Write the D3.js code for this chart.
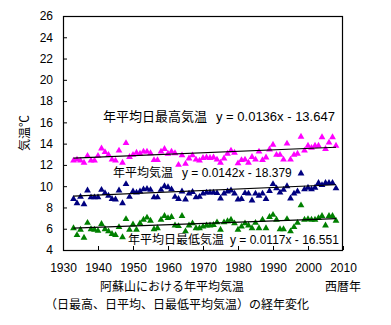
<!DOCTYPE html>
<html><head><meta charset="utf-8">
<script src="https://cdn.jsdelivr.net/npm/d3@7/dist/d3.min.js"></script>
<style>
body{margin:0;background:#fff;}
text{font-family:"Liberation Sans","Noto Sans CJK JP",sans-serif;font-size:12px;fill:#000;}
.jp{font-family:"Noto Sans CJK JP","Liberation Sans",sans-serif;}
</style></head>
<body><svg id="c" width="391" height="325"></svg>
<script>
const years = [1933,1934,1935,1936,1937,1938,1939,1940,1941,1942,
1943,1944,1945,1946,1947,1948,1949,1950,1951,1952,
1953,1954,1955,1956,1957,1958,1959,1960,1961,1962,
1963,1964,1965,1966,1967,1968,1969,1970,1971,1972,
1973,1974,1975,1976,1977,1978,1979,1980,1981,1982,
1983,1984,1985,1986,1987,1988,1989,1990,1991,1992,
1993,1994,1995,1996,1997,1998,1999,2000,2001,2002,
2003,2004,2005,2006,2007,2008];
const maxT = [12.4,12.5,12.4,12.2,12.85,12.4,12.4,12.85,13.55,13.2,
12.95,12.5,12.4,13.35,12.2,14.05,12.75,12.95,13.15,13.05,
13.25,13.25,13.1,12.45,12.45,13.25,13.5,13.05,13.25,13.1,
12.0,12.9,12.1,12.6,12.9,12.5,12.4,12.65,12.7,12.65,
12.7,12.5,12.2,12.6,13.05,13.35,13.15,12.15,12.45,12.5,
12.2,12.75,12.5,13.25,12.45,12.7,13.45,13.9,12.95,12.95,
12.5,14.0,12.5,12.95,13.05,14.65,13.35,13.8,13.6,13.8,
13.8,14.6,13.5,14.1,14.6,13.8];
const meanT = [8.8,8.4,9.0,8.3,9.6,8.95,8.95,8.95,9.65,9.35,
9.1,8.8,8.75,9.6,8.4,10.2,9.0,9.5,9.4,9.5,
9.7,9.75,9.65,8.95,8.95,9.65,10.0,9.9,9.7,9.0,
8.8,9.5,8.75,9.3,9.45,8.95,9.0,9.3,9.4,9.4,
9.4,9.35,8.85,9.3,9.5,9.6,9.3,8.75,8.8,9.35,
9.3,8.65,9.3,9.1,9.3,8.8,9.55,10.2,9.8,9.4,
9.65,10.0,8.85,9.3,9.5,11.2,9.7,9.85,9.7,9.85,
10.3,10.1,10.3,10.3,10.3,9.8];
const minT = [6.05,5.4,5.9,5.15,6.55,5.95,5.9,5.8,6.45,5.95,
5.75,5.5,5.4,6.15,5.2,6.9,5.9,6.4,5.9,6.5,
6.85,7.05,6.75,5.95,6.05,6.85,7.2,7.0,7.1,6.3,
6.25,7.2,5.75,6.3,6.5,6.05,6.05,6.2,6.3,6.3,
6.35,6.6,5.9,6.6,6.7,6.85,6.5,5.9,6.2,6.5,
6.3,6.05,6.55,6.05,6.85,6.05,7.1,7.3,6.85,5.95,
5.95,6.9,5.75,6.15,6.55,8.2,6.85,6.9,6.85,6.85,
7.0,7.2,6.3,7.2,7.2,6.75];
const seriesNames = ["年平均日最高気温","年平均気温","年平均日最低気温"];
const slopes = [0.0136,0.0142,0.0117];
const intercepts = [-13.647,-18.379,-16.551];
const eqLabels = ["y = 0.0136x - 13.647","y = 0.0142x - 18.379","y = 0.0117x - 16.551"];
const colors = ["#FF00FF","#000080","#008000"];
const xTicks = [1930,1940,1950,1960,1970,1980,1990,2000,2010];
const yTicks = [4,6,8,10,12,14,16,18,20,22,24,26];

const svg = d3.select("#c");
const L=63, R=343, T=16, B=250;
const x = d3.scaleLinear().domain([1930,2010]).range([L,R]);
const y = d3.scaleLinear().domain([4,26]).range([B,T]);

const gx = svg.append("g").attr("transform",`translate(0,${B})`)
  .call(d3.axisBottom(x).tickValues(xTicks).tickFormat(d3.format("d")).tickSize(-4).tickPadding(13));
const gy = svg.append("g").attr("transform",`translate(${L},0)`)
  .call(d3.axisLeft(y).tickValues(yTicks).tickSize(-4).tickPadding(10));
[gx,gy].forEach(g=>{g.select(".domain").remove();g.selectAll("line").attr("stroke","#000");
  g.selectAll("text").attr("font-size",12).attr("font-family","Liberation Sans, Arial, sans-serif").attr("fill","#000");});
svg.append("rect").attr("x",L+0.5).attr("y",T+0.5).attr("width",R-L-1).attr("height",B-T)
  .attr("fill","none").attr("stroke","#000").attr("stroke-width",1.2);

const data = [maxT, meanT, minT];
const tri = d3.symbol().type(d3.symbolTriangle).size(20);
data.forEach((vals,i)=>{
  svg.append("g").selectAll("path").data(years).join("path")
    .attr("d",tri).attr("fill",colors[i])
    .attr("transform",(d,j)=>`translate(${x(d)},${y(vals[j])})`);
  const x0=years[0], x1=years[years.length-1];
  svg.append("line").attr("x1",x(x0)).attr("x2",x(x1))
    .attr("y1",y(slopes[i]*x0+intercepts[i])).attr("y2",y(slopes[i]*x1+intercepts[i]))
    .attr("stroke","#000").attr("stroke-width",1.2);
});

const annJP = [[103,121],[113,177],[128,244]];
const annEq = [216,182,230];
const annSize = [13,12,12];
annJP.forEach((p,i)=>{
  svg.append("text").attr("class","jp").attr("x",p[0]).attr("y",p[1]).attr("font-size",annSize[i]).style("font-size",annSize[i]+"px").text(seriesNames[i]);
  svg.append("text").attr("x",annEq[i]).attr("y",p[1]).style("font-size",annSize[i]+"px").text(eqLabels[i]);
});

svg.append("text").attr("class","jp").attr("transform","translate(29,133) rotate(-90)")
  .attr("text-anchor","middle").text("気温℃");
svg.append("text").attr("class","jp").attr("x",343).attr("y",291).attr("text-anchor","middle").text("西暦年");
svg.append("text").attr("class","jp").attr("x",172).attr("y",291).attr("text-anchor","middle").text("阿蘇山における年平均気温");
svg.append("text").attr("class","jp").attr("x",177).attr("y",309).attr("text-anchor","middle").text("（日最高、日平均、日最低平均気温）の経年変化");
</script></body></html>
